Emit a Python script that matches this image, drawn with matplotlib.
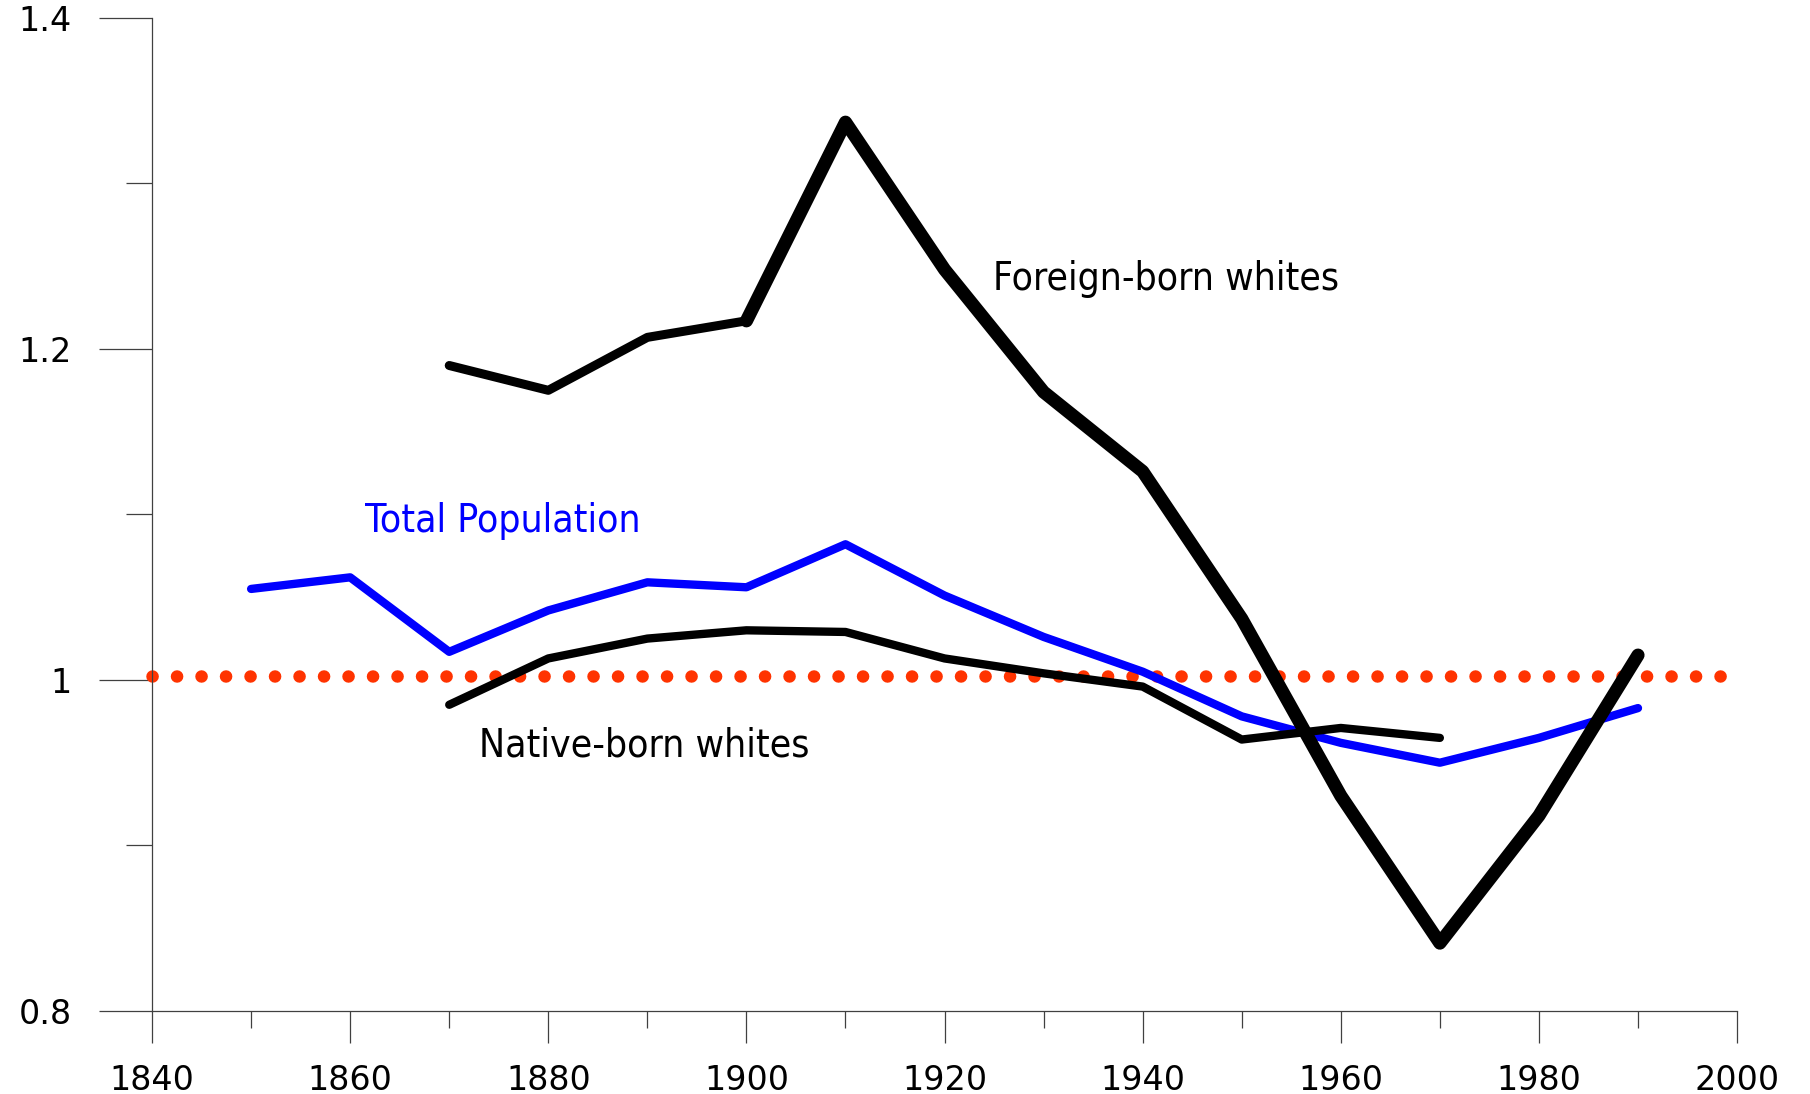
import matplotlib
matplotlib.use("Agg")
import matplotlib.pyplot as plt
from matplotlib import font_manager
from matplotlib.ticker import MultipleLocator, FixedLocator

# census years and ratios
years_total = [1850, 1860, 1870, 1880, 1890, 1900, 1910, 1920, 1930, 1940, 1950, 1960, 1970, 1980, 1990]
total_pop = [1.055, 1.062, 1.017, 1.042, 1.059, 1.056, 1.082, 1.051, 1.026, 1.005, 0.978, 0.962, 0.950, 0.965, 0.983]

years_native = [1870, 1880, 1890, 1900, 1910, 1920, 1930, 1940, 1950, 1960, 1970]
native_born = [0.985, 1.013, 1.025, 1.030, 1.029, 1.013, 1.004, 0.996, 0.964, 0.971, 0.965]

years_foreign = [1870, 1880, 1890, 1900, 1910, 1920, 1930, 1940, 1950, 1960, 1970, 1980, 1990]
foreign_born = [1.190, 1.175, 1.207, 1.217, 1.337, 1.248, 1.174, 1.126, 1.037, 0.930, 0.841, 0.918, 1.015]

ref_years = [1840, 1999.5]
ref_level = [1.0025, 1.0025]

xticks = [1840, 1860, 1880, 1900, 1920, 1940, 1960, 1980, 2000]
yticks = [0.8, 1.0, 1.2, 1.4]
ytick_labels = ["0.8", "1", "1.2", "1.4"]

names = {f.name for f in font_manager.fontManager.ttflist}
if "Liberation Sans Narrow" in names:
    label_font = dict(family="Liberation Sans Narrow", size=33)
else:
    label_font = dict(family="DejaVu Sans", stretch="condensed", size=28)

fig = plt.figure(figsize=(18.1, 10.94), dpi=100)
ax = fig.add_axes([0.0840, 0.0759, 0.8757, 0.9077])

ax.plot(ref_years, ref_level, color="#ff3300", lw=9, linestyle=(0, (0.01, 1.95)),
        solid_capstyle="round", dash_capstyle="round", zorder=2)

ax.plot(years_total, total_pop, color="#0000ff", lw=6, solid_capstyle="round",
        solid_joinstyle="round", zorder=3)
ax.plot(years_native, native_born, color="black", lw=6, solid_capstyle="round",
        solid_joinstyle="round", zorder=3)
# foreign-born line is thinner before 1900, heavier after
ax.plot(years_foreign[:4], foreign_born[:4], color="black", lw=6.5, solid_capstyle="round",
        solid_joinstyle="round", zorder=4)
ax.plot(years_foreign[3:], foreign_born[3:], color="black", lw=9.5, solid_capstyle="round",
        solid_joinstyle="round", zorder=4)

ax.text(1924.9, 1.2357, "Foreign-born whites", color="black", ha="left", va="baseline", **label_font)
ax.text(1861.5, 1.0894, "Total Population", color="#0000ff", ha="left", va="baseline", **label_font)
ax.text(1873.0, 0.954, "Native-born whites", color="black", ha="left", va="baseline", **label_font)

ax.set_xlim(1840, 2000)
ax.set_ylim(0.8, 1.4)
ax.set_xticks(xticks)
ax.xaxis.set_minor_locator(MultipleLocator(10))
ax.set_yticks(yticks)
ax.set_yticklabels(ytick_labels)
ax.yaxis.set_minor_locator(FixedLocator([0.9, 1.1, 1.3]))

for s in ["top", "right"]:
    ax.spines[s].set_visible(False)
for s in ["left", "bottom"]:
    ax.spines[s].set_color("#404040")
    ax.spines[s].set_linewidth(0.9)

ax.tick_params(axis="x", which="major", length=23, width=0.9, color="#404040", pad=15,
               labelsize=24, labelcolor="black")
ax.tick_params(axis="x", which="minor", length=12, width=0.9, color="#404040")
ax.tick_params(axis="y", which="major", length=38, width=0.9, color="#404040", pad=20,
               labelsize=24, labelcolor="black")
ax.tick_params(axis="y", which="minor", length=19, width=0.9, color="#404040")
for lab in ax.get_xticklabels() + ax.get_yticklabels():
    lab.set_family("DejaVu Sans")

for ln in ax.get_lines():
    ln.set_clip_on(False)

fig.savefig("out.png", dpi=100, facecolor="white")
